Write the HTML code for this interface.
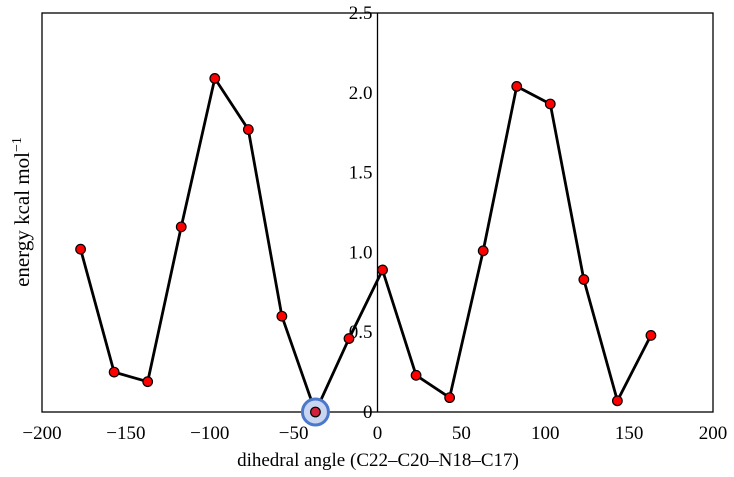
<!DOCTYPE html>
<html><head><meta charset="utf-8"><style>
html,body{margin:0;padding:0;background:#fff;}
svg{display:block;font-family:"Liberation Serif",serif;}
</style></head><body>
<svg id="chart" width="734" height="477" viewBox="0 0 734 477" xmlns="http://www.w3.org/2000/svg">
<g id="axes"></g>
<g id="series"></g>
</svg>
<script>
const xValues=[-177,-157,-137,-117,-97,-77,-57,-37,-17,3,23,43,63,83,103,123,143,163];
const energyValues=[1.02,0.25,0.19,1.16,2.09,1.77,0.60,0.0,0.46,0.89,0.23,0.09,1.01,2.04,1.93,0.83,0.07,0.48];
const xTicks=[-200,-150,-100,-50,0,50,100,150,200];
const yTicks=[0,0.5,1.0,1.5,2.0,2.5];
const yTickLabels=["0","0.5","1.0","1.5","2.0","2.5"];
const highlightIndex=7;

const NS="http://www.w3.org/2000/svg";
const L=42,R=713,T=13,B=412;
const xs=v=>L+(v+200)/400*(R-L);
const ys=v=>B-v/2.5*(B-T);
function mk(tag,attrs,parent,text){const e=document.createElementNS(NS,tag);for(const k in attrs)e.setAttribute(k,attrs[k]);if(text!==undefined)e.textContent=text;parent.appendChild(e);return e;}
const ax=document.getElementById('axes'),sr=document.getElementById('series');

let f=mk('rect',{x:L,y:T,width:R-L,height:B-T,fill:'none',stroke:'#000','stroke-width':1.3},ax);


let sp=mk('line',{x1:xs(0),x2:xs(0),y1:T,y2:B,stroke:'#000','stroke-width':1.3},ax);



xTicks.forEach(v=>{
  const t=mk('text',{x:xs(v),y:B+27,'text-anchor':'middle','font-size':19},ax,v<0?'\u2212'+Math.abs(v):String(v));
  
  
});
yTicks.forEach((v,i)=>{
  const t=mk('text',{x:xs(0)-5,y:ys(v)+6,'text-anchor':'end','font-size':19},ax,yTickLabels[i]);
  
  
});
let xt=mk('text',{x:378,y:466,'text-anchor':'middle','font-size':19},ax,'dihedral angle (C22\u2013C20\u2013N18\u2013C17)');


let yt=mk('text',{x:0,y:0,'text-anchor':'middle','font-size':21,transform:'translate(29,212) rotate(-90)'},ax);


yt.textContent='energy kcal mol';
mk('tspan',{dy:-8,'font-size':14},yt,'\u22121');

const d=xValues.map((x,i)=>(i?'L':'M')+xs(x).toFixed(1)+','+ys(energyValues[i]).toFixed(1)).join(' ');
let ln=mk('path',{d:d,fill:'none',stroke:'#000','stroke-width':2.8,'stroke-linejoin':'round'},sr);



const hx=xs(xValues[highlightIndex]),hy=ys(energyValues[highlightIndex]);
let hl=mk('circle',{cx:hx,cy:hy,r:13,fill:'#c8d6f2',stroke:'#4a78cc','stroke-width':3},sr);



xValues.forEach((x,i)=>{
  const c=mk('circle',{cx:xs(x),cy:ys(energyValues[i]),r:4.8,fill:i===highlightIndex?'#d0203a':'#ff0000',stroke:'#000','stroke-width':1.2},sr);
  
  
});
</script>
</body></html>
